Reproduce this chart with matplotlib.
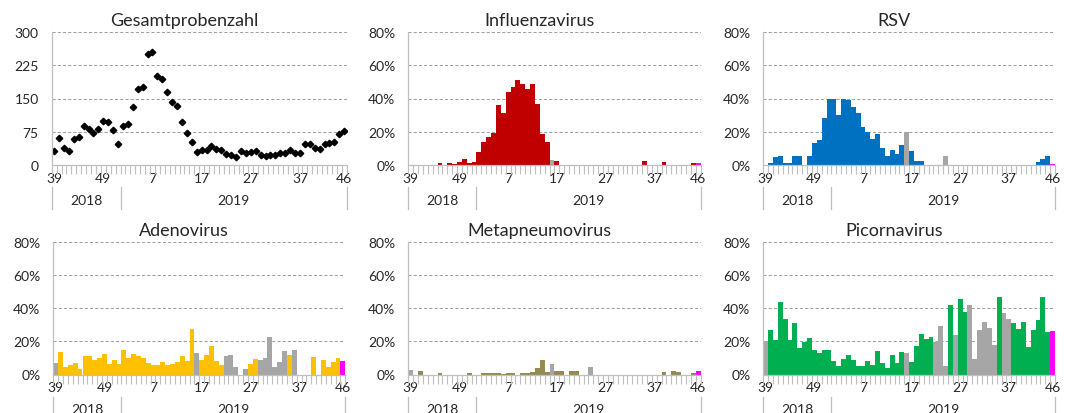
import matplotlib

matplotlib.use("Agg")

import matplotlib.pyplot as plt  # noqa: E402
from matplotlib.ticker import PercentFormatter  # noqa: E402

plt.rcParams["font.family"] = ["Lato", "DejaVu Sans"]

# category axis: calendar weeks 39/2018 .. 46/2019
weeks = list(range(39, 53)) + list(range(1, 47))
years = ["2018", "2019"]
year_bounds = [0, 14, 60]          # first index of each year block + end
week_ticks = [0, 10, 20, 30, 40, 50, 59]

# weeks with few samples are drawn grey, the current week magenta
grey_weeks = [0, 29, 35, 36, 37, 39, 42, 43, 44, 45, 46, 47, 49, 50]
current_week = 59

total_samples = [30, 60, 38, 32, 58, 62, 88, 82, 71, 80,
                 100, 96, 79, 46, 88, 92, 131, 171, 177, 251,
                 255, 200, 194, 164, 141, 134, 97, 72, 51, 29,
                 34, 34, 42, 36, 34, 24, 23, 18, 30, 26,
                 29, 31, 23, 20, 21, 22, 26, 26, 33, 26,
                 26, 48, 46, 38, 35, 48, 49, 52, 70, 76]

# positive rates in %
influenza = [0, 0, 0, 0, 0, 0, 0.8, 0, 1.0, 0.7,
             1.6, 3.7, 1.0, 1.8, 7.5, 13.6, 17.0, 19.3, 36.0, 31.4,
             44.0, 47.0, 51.0, 48.5, 46.0, 48.7, 36.7, 18.7, 13.6, 2.8,
             2.2, 0, 0, 0, 0, 0, 0, 0, 0, 0,
             0, 0, 0, 0, 0, 0, 0, 0, 2.2, 0,
             0, 0, 1.8, 0, 0, 0, 0, 0, 1.0, 1.0]

rsv = [0, 1.0, 4.7, 5.5, 1.2, 1.2, 5.5, 5.0, 0, 5.0,
       13.0, 15.2, 28.0, 40.0, 40.0, 30.0, 40.0, 39.0, 35.0, 31.0,
       23.0, 19.7, 15.6, 18.5, 10.3, 5.5, 9.0, 6.7, 11.8, 19.7,
       8.1, 2.4, 2.2, 0, 0, 0, 0, 5.3, 0, 0,
       0, 0, 0, 0, 0, 0, 0, 0, 0, 0,
       0, 0, 0, 0, 0, 0, 1.4, 3.6, 5.5, 0.6]

adenovirus = [6.7, 13.7, 4.8, 5.7, 6.7, 3.2, 10.9, 10.9, 8.5, 9.7,
              12.7, 6.3, 8.7, 6.3, 14.7, 9.7, 12.7, 10.9, 9.7, 6.7,
              5.5, 5.7, 7.3, 5.7, 6.1, 7.7, 10.9, 8.1, 27.5, 13.1,
              8.5, 11.7, 17.0, 8.1, 5.5, 11.3, 12.1, 4.8, 0, 3.6,
              6.1, 9.3, 8.5, 9.7, 22.6, 4.4, 7.3, 14.1, 11.9, 14.9,
              0, 0, 0, 10.5, 0, 8.5, 4.4, 7.7, 9.7, 8.1]

metapneumovirus = [2.8, 0, 2.0, 0, 0, 0, 0.8, 0, 0, 0,
                   0, 0, 0.8, 0, 0, 0.8, 1.2, 1.2, 1.2, 0.6,
                   1.0, 1.2, 0, 0.8, 1.2, 1.4, 3.8, 8.7, 1.4, 6.3,
                   2.4, 2.4, 0, 2.0, 2.4, 0, 0, 4.6, 0, 0,
                   0, 0, 0, 0, 0, 0, 0, 0, 0, 0,
                   0, 0, 1.6, 0, 2.4, 1.6, 0, 0, 0.8, 2.0]

picornavirus = [20.0, 27.1, 20.6, 44.0, 33.3, 21.0, 31.4, 16.0, 19.8, 22.2,
                14.9, 13.3, 15.1, 14.9, 8.0, 5.3, 9.6, 12.0, 8.6, 5.3,
                4.9, 8.4, 5.5, 14.5, 6.7, 3.7, 11.6, 6.7, 13.7, 13.1,
                7.8, 17.3, 24.5, 21.4, 22.4, 19.6, 29.2, 4.9, 42.0, 24.1,
                45.5, 37.6, 42.0, 9.6, 27.1, 31.8, 28.4, 17.6, 47.1, 37.1,
                33.3, 31.2, 27.6, 31.6, 16.7, 27.1, 32.9, 47.1, 25.9, 26.3]

bar_panels = [
    ("Influenzavirus", influenza, "#C00000"),
    ("RSV", rsv, "#0070C0"),
    ("Adenovirus", adenovirus, "#FFC000"),
    ("Metapneumovirus", metapneumovirus, "#948A54"),
    ("Picornavirus", picornavirus, "#00B050"),
]

W, H = 1067, 414
PX = 72 / 100  # points per pixel at dpi 100
GREY = "#A6A6A6"
AXIS = "#BFBFBF"
TEXT = "#262626"

# plot areas in pixels: (left, right, top, bottom)
boxes = [
    (51.7, 346.7, 33.3, 165.7), (408.3, 700.5, 33.3, 165.7), (763.3, 1055.0, 33.3, 165.7),
    (53.3, 345.3, 243.3, 375.5), (408.3, 700.5, 243.3, 375.5), (763.3, 1055.0, 243.3, 375.5),
]

fig = plt.figure(figsize=(W / 100, H / 100), dpi=100)


def make_axes(box, title):
    x0, x1, y0, y1 = box
    ax = fig.add_axes([x0 / W, 1 - y1 / H, (x1 - x0) / W, (y1 - y0) / H])
    hpx = y1 - y0
    ax.set_xlim(-0.5, len(weeks) - 0.5)
    for side in ("top", "right"):
        ax.spines[side].set_visible(False)
    for side in ("left", "bottom"):
        ax.spines[side].set_color(AXIS)
        ax.spines[side].set_linewidth(0.9)
    ax.set_axisbelow(True)
    ax.yaxis.grid(True, color="#A0A0A0", linewidth=0.75, linestyle=(0, (3, 2)))
    ax.tick_params(axis="y", length=0, pad=13 * PX, labelsize=10, labelcolor=TEXT)
    # week labels + one small tick per category
    ax.set_xticks(week_ticks, [str(weeks[i]) for i in week_ticks])
    ax.set_xticks([i - 0.5 for i in range(len(weeks) + 1)], minor=True)
    ax.tick_params(axis="x", which="major", length=0, pad=7 * PX, labelsize=10, labelcolor=TEXT)
    ax.tick_params(axis="x", which="minor", length=9 * PX, width=0.8, color=AXIS)
    # year row
    trans = ax.get_xaxis_transform()
    for b in year_bounds:
        ax.plot([b - 0.5, b - 0.5], [-22 / hpx, -44 / hpx], color=AXIS, lw=0.9,
                transform=trans, clip_on=False)
    for i, yr in enumerate(years):
        mid = (year_bounds[i] + year_bounds[i + 1] - 1) / 2
        ax.text(mid, -35 / hpx, yr, transform=trans, ha="center", va="center",
                fontsize=10, color=TEXT)
    fig.text(((x0 + x1) / 2 - 15) / W, 1 - (y0 - 7) / H, title, ha="center",
             va="baseline", fontsize=13, color=TEXT)
    return ax


# total number of samples
ax = make_axes(boxes[0], "Gesamtprobenzahl")
ax.plot(range(len(weeks)), total_samples, linestyle="none", marker="D",
        markersize=3.3, color="black")
ax.set_ylim(0, 300)
ax.set_yticks([0, 75, 150, 225, 300])

# positive rates per pathogen
for box, (title, values, color) in zip(boxes[1:], bar_panels):
    ax = make_axes(box, title)
    colors = []
    for i in range(len(weeks)):
        if i == current_week:
            colors.append("#FF00FF")
        elif i in grey_weeks:
            colors.append(GREY)
        else:
            colors.append(color)
    ax.bar(range(len(weeks)), values, width=1.0, color=colors, linewidth=0)
    ax.set_ylim(0, 80)
    ax.set_yticks([0, 20, 40, 60, 80])
    ax.yaxis.set_major_formatter(PercentFormatter(decimals=0))

fig.savefig("out.png", dpi=100)
plt.close(fig)
